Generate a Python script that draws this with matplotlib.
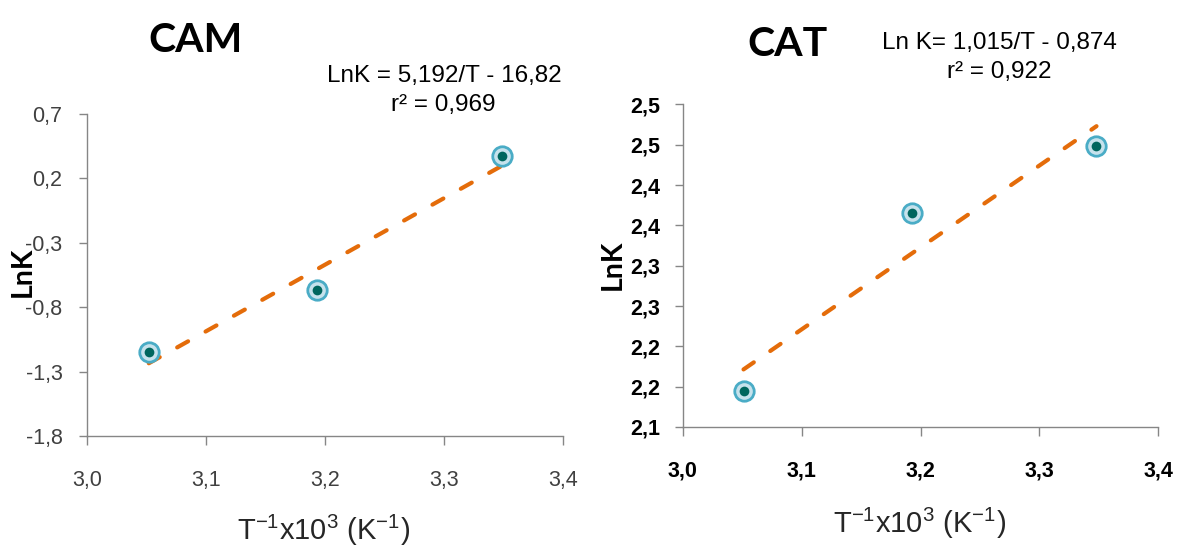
import numpy as np
import matplotlib
matplotlib.use("Agg")
import matplotlib.pyplot as plt

plt.rcParams["font.family"] = ["Liberation Sans", "DejaVu Sans"]
plt.rcParams["mathtext.fontset"] = "custom"
plt.rcParams["mathtext.rm"] = "Liberation Sans"
plt.rcParams["mathtext.default"] = "regular"

# Inverse temperature (1000/T, K^-1) and ln K for each enzyme
cam_x = [3.052, 3.193, 3.349]
cam_lnk = [-1.150, -0.665, 0.376]
cat_x = [3.051, 3.193, 3.348]
cat_lnk = [2.145, 2.366, 2.449]

x_ticks = [3.0, 3.1, 3.2, 3.3, 3.4]
x_tick_labels = ["3,0", "3,1", "3,2", "3,3", "3,4"]
cam_y_ticks = [-1.8, -1.3, -0.8, -0.3, 0.2, 0.7]
cam_y_tick_labels = ["-1,8", "-1,3", "-0,8", "-0,3", "0,2", "0,7"]
cat_y_ticks = [2.10, 2.15, 2.20, 2.25, 2.30, 2.35, 2.40, 2.45, 2.50]
cat_y_tick_labels = ["2,1", "2,2", "2,2", "2,3", "2,3", "2,4", "2,4", "2,5", "2,5"]

cam_equation = ["LnK = 5,192/T - 16,82", "r\u00b2 = 0,969"]
cat_equation = ["Ln K= 1,015/T - 0,874", "r\u00b2 = 0,922"]

W, H = 1177, 546
fig = plt.figure(figsize=(W / 100, H / 100), dpi=100)

SPINE = "#868686"
ORANGE = "#E46C0A"


def fx(px):
    return px / W


def fy(py):
    return 1 - py / H


def style_axes(ax, xt, xtl, yt, ytl, ylim, bold, color, ypad):
    ax.set_xlim(3.0, 3.4)
    ax.set_ylim(*ylim)
    for s in ("top", "right"):
        ax.spines[s].set_visible(False)
    for s in ("left", "bottom"):
        ax.spines[s].set_color(SPINE)
        ax.spines[s].set_linewidth(1.0)
    ax.set_xticks(xt)
    ax.set_xticklabels(xtl)
    ax.set_yticks(yt)
    ax.set_yticklabels(ytl)
    weight = "bold" if bold else "normal"
    ax.tick_params(axis="x", direction="out", length=6.5, width=1.0,
                   color=SPINE, pad=18, labelsize=15.5, labelcolor=color)
    ax.tick_params(axis="y", direction="out", length=5.5, width=1.0,
                   color=SPINE, pad=ypad, labelsize=15.5, labelcolor=color)
    for lab in ax.get_xticklabels() + ax.get_yticklabels():
        lab.set_fontweight(weight)


def draw_series(ax, x, y):
    # least-squares trend line over the measured range
    slope, intercept = np.polyfit(x, y, 1)
    xs = np.array([min(x), max(x)])
    ax.plot(xs, slope * xs + intercept, color=ORANGE, lw=3.0,
            linestyle=(0, (3.0, 4.8)), dash_capstyle="round", zorder=2)
    ax.plot(x, y, "o", ms=14, mfc="#c6e2ec", mec="#4aacc6", mew=2.0,
            zorder=3, clip_on=False)
    ax.plot(x, y, "o", ms=7, mfc="#00665e", mec="#00665e", mew=0,
            zorder=4, clip_on=False)


# CAM panel
ax1 = fig.add_axes([fx(86.9), fy(436.3), fx(476.3), 322.4 / H])
style_axes(ax1, x_ticks, x_tick_labels, cam_y_ticks, cam_y_tick_labels,
           (-1.8, 0.7), False, "#404040", 12)
draw_series(ax1, cam_x, cam_lnk)

# CAT panel
ax2 = fig.add_axes([fx(682.9), fy(426.9), fx(475.4), 322.4 / H])
style_axes(ax2, x_ticks, x_tick_labels, cat_y_ticks, cat_y_tick_labels,
           (2.10, 2.50), True, "black", 11)
draw_series(ax2, cat_x, cat_lnk)

# Titles
title_font = dict(family=["Lato", "DejaVu Sans"], fontweight="bold",
                  fontsize=29.5, ha="center", va="baseline", color="black")
fig.text(fx(195.6), fy(52.2), "CAM", **title_font)
fig.text(fx(787.7), fy(56.4), "CAT", **title_font)

# Regression equations
eq_font = dict(fontsize=17.5, ha="center", va="baseline", color="black")
fig.text(fx(444), fy(81.8), cam_equation[0], **eq_font)
fig.text(fx(443), fy(111.4), cam_equation[1], **eq_font)
fig.text(fx(999.4), fy(48.7), cat_equation[0], **eq_font)
fig.text(fx(999), fy(78.3), cat_equation[1], **eq_font)

# Axis titles
ylab_font = dict(family=["Lato", "DejaVu Sans"], fontweight="bold",
                 fontsize=20.5, rotation=90, ha="center", va="center",
                 color="black")
fig.text(fx(22.6), fy(271.6), "LnK", **ylab_font)
fig.text(fx(612.5), fy(264.6), "LnK", **ylab_font)

xlabel = r"T$^{-1}$x10$^{3}$ (K$^{-1}$)"
fig.text(fx(323.5), fy(539.5), xlabel, fontsize=21, ha="center",
         va="baseline", color="#262626")
fig.text(fx(919.5), fy(532.7), xlabel, fontsize=21, ha="center",
         va="baseline", color="#262626")

fig.savefig("out.png", dpi=100)
